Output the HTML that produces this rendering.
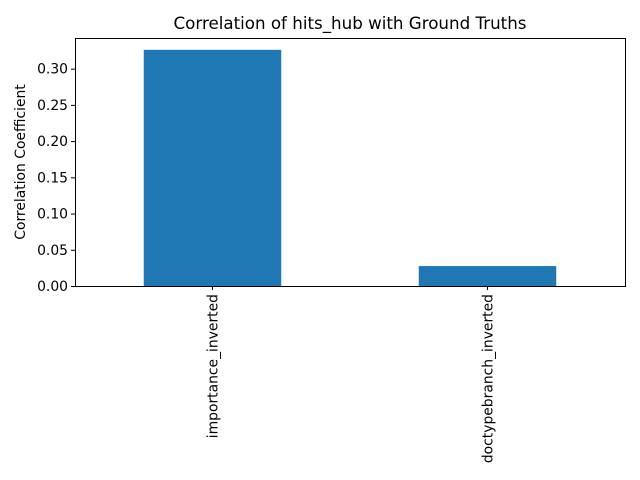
<!DOCTYPE html>
<html><head><meta charset="utf-8"><style>
body{margin:0;background:#fff;}
svg{display:block;font-family:"DejaVu Sans","Liberation Sans",sans-serif;}
</style></head><body>
<svg id="chart" width="640" height="480">
<text x="350" y="29" font-size="16.7" text-anchor="middle">Correlation of hits_hub with Ground Truths</text>
<text transform="translate(25,162) rotate(-90)" font-size="13.9" text-anchor="middle">Correlation Coefficient</text>
<g id="bars"></g><g id="yticks"></g><g id="xticks"></g>
<rect x="75.5" y="38.5" width="550" height="248" fill="none" stroke="#000" stroke-width="1"/>
</svg>
<script>
const categories = ["importance_inverted", "doctypebranch_inverted"];
const values = [0.326, 0.0275];
const yTicks = [0.00, 0.05, 0.10, 0.15, 0.20, 0.25, 0.30];
const yTickLabels = ["0.00","0.05","0.10","0.15","0.20","0.25","0.30"];

const NS="http://www.w3.org/2000/svg";
const pL=75,pR=625,pT=38,pB=286;
const yMax=Math.max(...values)*1.05;
const yS=v=>pB-(v/yMax)*(pB-pT);
const band=(pR-pL)/categories.length;
const xc=i=>pL+band*(i+0.5);
function mk(t,a){const e=document.createElementNS(NS,t);for(const k in a)e.setAttribute(k,a[k]);return e;}
const gb=document.getElementById('bars'),gy=document.getElementById('yticks'),gx=document.getElementById('xticks');
categories.forEach((c,i)=>{
  const w=band*0.5;
  const r=mk('rect',{x:xc(i)-w/2,y:yS(values[i]),width:w,height:pB-yS(values[i]),fill:'#1f77b4'});
  
  
  gb.appendChild(r);
  const t=mk('line',{x1:xc(i),x2:xc(i),y1:pB,y2:pB+4,stroke:'#000'});
  
  
  gx.appendChild(t);
  const l=mk('text',{transform:`translate(${xc(i)+5},${pB+8}) rotate(-90)`,'font-size':'13.9','text-anchor':'end'});
  l.textContent=c;
  
  
  gx.appendChild(l);
});
yTicks.forEach((v,i)=>{
  const t=mk('line',{x1:pL-4,x2:pL,y1:yS(v)+0.5,y2:yS(v)+0.5,stroke:'#000'});
  
  
  gy.appendChild(t);
  const l=mk('text',{x:pL-7,y:yS(v)+5,'font-size':'13.9','text-anchor':'end'});
  l.textContent=yTickLabels[i];
  
  
  gy.appendChild(l);
});
</script>
</body></html>
